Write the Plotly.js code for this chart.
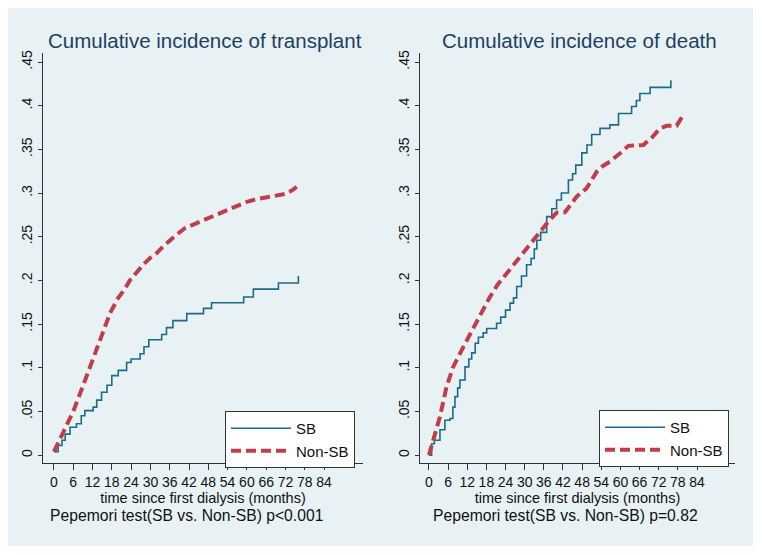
<!DOCTYPE html>
<html>
<head>
<meta charset="utf-8">
<script src="https://cdn.plot.ly/plotly-3.0.1.min.js"></script>
<style>
  html, body { margin: 0; padding: 0; background: #fff; }
  #plot { width: 762px; height: 555px; }
</style>
</head>
<body>
<div id="plot"></div>
<script>
// time axis (months) and y ticks
const monthTicks = [0, 6, 12, 18, 24, 30, 36, 42, 48, 54, 60, 66, 72, 78, 84];
const probTicks = [0, 0.05, 0.1, 0.15, 0.2, 0.25, 0.3, 0.35, 0.4, 0.45];
const probLabels = ["0", ".05", ".1", ".15", ".2", ".25", ".3", ".35", ".4", ".45"];

// transplant, SB (step function)
const txSbMonths = [0, 1.3, 2.5, 3.5, 5, 7, 8.5, 9.6, 12.2, 13.3, 14.8, 16.5, 18, 20, 22.6, 24, 26.8, 28, 29.5, 33.5, 35, 37, 41.3, 46.5, 49, 59, 62, 69.8, 76];
const txSbValues = [0.004, 0.011, 0.017, 0.024, 0.032, 0.036, 0.045, 0.051, 0.055, 0.063, 0.072, 0.08, 0.091, 0.097, 0.106, 0.11, 0.116, 0.124, 0.132, 0.138, 0.146, 0.154, 0.162, 0.168, 0.1745, 0.181, 0.19, 0.197, 0.205];

// transplant, Non-SB
const txNonMonths = [0, 3, 6, 9, 11.2, 13, 15.3, 17.5, 20, 22, 23.6, 26, 28, 30, 31.9, 34, 36, 38, 40.8, 44, 47, 51.6, 54, 57, 60, 63, 66, 69.3, 72, 74, 75.5];
const txNonValues = [0.004, 0.027, 0.05, 0.079, 0.101, 0.121, 0.143, 0.163, 0.18, 0.19, 0.2, 0.211, 0.219, 0.226, 0.231, 0.239, 0.246, 0.252, 0.26, 0.265, 0.27, 0.277, 0.281, 0.285, 0.29, 0.293, 0.295, 0.297, 0.299, 0.303, 0.307];

// death, SB (step function)
const deathSbMonths = [0, 0.85, 1.7, 3.45, 5, 6.6, 7.5, 8.15, 9, 9.7, 11.3, 12.5, 13.4, 14.5, 15.5, 17, 18.1, 21.2, 22.5, 24, 25.4, 26.5, 27.5, 29, 30.6, 32, 33, 33.8, 35, 36.9, 38.5, 40, 41.5, 43.7, 45, 46, 47.9, 49.5, 51, 53.6, 56.7, 59.4, 63.5, 65, 66.1, 69.3, 75.8];
const deathSbValues = [0, 0.013, 0.017, 0.029, 0.04, 0.042, 0.055, 0.067, 0.077, 0.086, 0.101, 0.11, 0.117, 0.128, 0.135, 0.14, 0.145, 0.151, 0.158, 0.166, 0.174, 0.18, 0.193, 0.205, 0.218, 0.225, 0.236, 0.246, 0.255, 0.273, 0.282, 0.292, 0.3, 0.315, 0.322, 0.332, 0.346, 0.355, 0.367, 0.374, 0.378, 0.391, 0.399, 0.406, 0.414, 0.421, 0.429];

// death, Non-SB
const deathNonMonths = [0, 1.35, 3.45, 5.5, 7.6, 10.8, 13.9, 16.5, 19.1, 21.5, 24.4, 26.5, 28.5, 31, 33.8, 36.9, 40, 42.6, 44.5, 46.3, 49.4, 52.6, 54.5, 56.7, 59.9, 62.5, 67.2, 70, 72.4, 74.5, 77.6, 79.7];
const deathNonValues = [0, 0.017, 0.044, 0.078, 0.101, 0.124, 0.145, 0.164, 0.181, 0.195, 0.208, 0.219, 0.227, 0.239, 0.25, 0.265, 0.2776, 0.278, 0.287, 0.296, 0.3055, 0.3245, 0.331, 0.336, 0.3456, 0.354, 0.355, 0.364, 0.374, 0.377, 0.377, 0.3895];

const sbColor = "#1b6b8c";
const nonColor = "#c23d4a";
const bgColor = "#e8f1f3";
const W = 762, H = 555;
const px = (v) => v / W;
const py = (v) => 1 - v / H;

const sbLine = { color: sbColor, width: 1.6, shape: "hv" };
const nonLine = { color: nonColor, width: 4, dash: "10px,5px" };

const data = [
  { x: txSbMonths, y: txSbValues, type: "scatter", mode: "lines", name: "SB", line: sbLine, xaxis: "x", yaxis: "y", legend: "legend" },
  { x: txNonMonths, y: txNonValues, type: "scatter", mode: "lines", name: "Non-SB", line: nonLine, xaxis: "x", yaxis: "y", legend: "legend" },
  { x: deathSbMonths, y: deathSbValues, type: "scatter", mode: "lines", name: "SB", line: sbLine, xaxis: "x2", yaxis: "y2", legend: "legend2" },
  { x: deathNonMonths, y: deathNonValues, type: "scatter", mode: "lines", name: "Non-SB", line: nonLine, xaxis: "x2", yaxis: "y2", legend: "legend2" },
];

const font = { family: "Arial, 'Liberation Sans', sans-serif", color: "#111" };

const xAxisBase = {
  tickvals: monthTicks,
  ticks: "outside",
  ticklen: 6,
  tickcolor: "#333",
  showline: true,
  linecolor: "#333",
  linewidth: 1,
  showgrid: false,
  zeroline: false,
  tickfont: { size: 14, color: "#111" },
  title: { text: "time since first dialysis (months)", font: { size: 14.5, color: "#111" }, standoff: 2 },
};

const yAxisBase = {
  range: [-0.009, 0.4603],
  tickvals: probTicks,
  ticktext: probLabels,
  tickangle: -90,
  ticks: "outside",
  ticklen: 4,
  tickcolor: "#333",
  showline: true,
  linecolor: "#333",
  linewidth: 1,
  showgrid: true,
  gridcolor: "#e9f0f2",
  gridwidth: 1,
  zeroline: false,
  tickfont: { size: 14, color: "#111" },
};

const legendBase = {
  bgcolor: "#fff",
  bordercolor: "#333",
  borderwidth: 1,
  font: { size: 15, color: "#111" },
  itemwidth: 60,
  xanchor: "left",
  yanchor: "top",
  tracegroupgap: 0,
};

const layout = {
  width: W,
  height: H,
  margin: { l: 0, r: 0, t: 0, b: 0 },
  paper_bgcolor: "#fff",
  plot_bgcolor: "#fff",
  font: font,
  showlegend: true,
  xaxis: Object.assign({}, xAxisBase, { domain: [px(43), px(363)], range: [-3.4, 96.1], anchor: "y" }),
  yaxis: Object.assign({}, yAxisBase, { domain: [py(463), py(53)], anchor: "x" }),
  xaxis2: Object.assign({}, xAxisBase, { domain: [px(420), px(735)], range: [-2.8, 95.9], anchor: "y2" }),
  yaxis2: Object.assign({}, yAxisBase, { domain: [py(463), py(53)], anchor: "x2" }),
  legend: Object.assign({}, legendBase, { x: px(225), y: py(411) }),
  legend2: Object.assign({}, legendBase, { x: px(599), y: py(410) }),
  shapes: [
    { type: "rect", xref: "paper", yref: "paper", x0: px(8), x1: px(753), y0: py(546), y1: py(8), fillcolor: bgColor, line: { width: 0 }, layer: "below" },
  ],
  annotations: [
    { text: "Cumulative incidence of transplant", xref: "paper", yref: "paper", x: px(205), y: py(40), xanchor: "center", yanchor: "middle", showarrow: false, font: { size: 20.5, color: "#1c3f63" } },
    { text: "Cumulative incidence of death", xref: "paper", yref: "paper", x: px(579), y: py(40), xanchor: "center", yanchor: "middle", showarrow: false, font: { size: 20.5, color: "#1c3f63" } },
    { text: "Pepemori test(SB vs. Non-SB) p<0.001", xref: "paper", yref: "paper", x: px(48), y: py(515), xanchor: "left", yanchor: "middle", showarrow: false, font: { size: 15.7, color: "#111" } },
    { text: "Pepemori test(SB vs. Non-SB) p=0.82", xref: "paper", yref: "paper", x: px(431), y: py(515), xanchor: "left", yanchor: "middle", showarrow: false, font: { size: 15.7, color: "#111" } },
  ],
};

Plotly.newPlot("plot", data, layout, { displayModeBar: false, staticPlot: true });
</script>
</body>
</html>
